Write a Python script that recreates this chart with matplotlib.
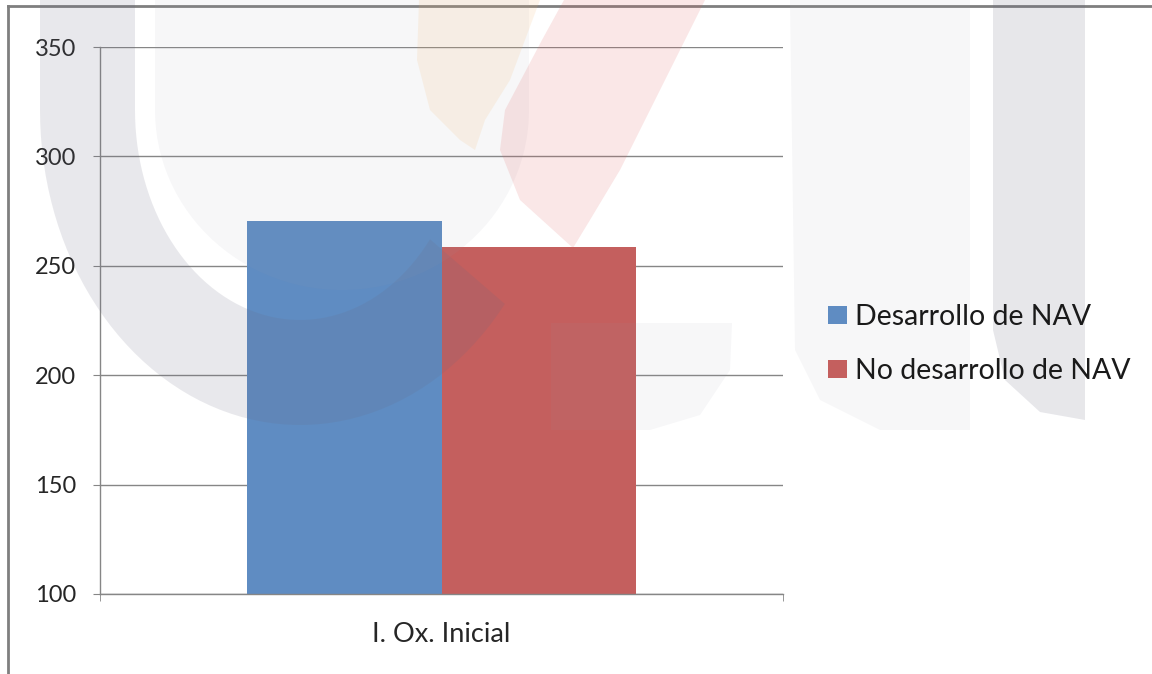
import numpy as np
import matplotlib
matplotlib.use("Agg")
import matplotlib.pyplot as plt
from matplotlib.patches import Polygon
from matplotlib.lines import Line2D

# data
categories = ["I. Ox. Inicial"]
series_names = ["Desarrollo de NAV", "No desarrollo de NAV"]
values_nav = [270.5]
values_no_nav = [258.7]
colors = ["#5F8CC2", "#C45F5E"]

plt.rcParams['font.family'] = ['Lato', 'DejaVu Sans']

W, H = 1152, 674
fig = plt.figure(figsize=(W / 100, H / 100), dpi=100)
fig.patch.set_facecolor("white")

ax = fig.add_axes([100 / W, 1 - 594 / H, 683 / W, 547 / H])
ax.set_facecolor("none")

x = np.arange(len(categories))
bw = 0.285
ax.bar(x - bw / 2, values_nav, bw, color=colors[0], label=series_names[0], zorder=2)
ax.bar(x + bw / 2, values_no_nav, bw, color=colors[1], label=series_names[1], zorder=2)

ax.set_ylim(100, 350)
ax.set_xlim(-0.5, 0.5)
ax.set_yticks(np.arange(100, 351, 50))
ax.yaxis.grid(True, color="#868686", linewidth=1)
ax.set_axisbelow(True)

for s in ["top", "right"]:
    ax.spines[s].set_visible(False)
for s in ["left", "bottom"]:
    ax.spines[s].set_color("#868686")
    ax.spines[s].set_linewidth(1)

ax.tick_params(axis="y", length=5, color="#868686", labelsize=17, pad=12, labelcolor="#262626")
ax.set_xticks(x)
ax.set_xticklabels(categories)
ax.tick_params(axis="x", which="major", length=0, labelsize=19.5, pad=20, labelcolor="#262626")
ax.set_xticks([-0.5, 0.5], minor=True)
ax.tick_params(axis="x", which="minor", length=5, color="#868686")

leg = fig.legend(loc="center left", bbox_to_anchor=(828 / W, 1 - 344 / H), frameon=False,
                 fontsize=20.5, handlelength=0.66, handleheight=0.62, handletextpad=0.28,
                 labelspacing=0.98, borderaxespad=0, borderpad=0)
for t in leg.get_texts():
    t.set_color("#1a1a1a")


# faint watermark, pixel coords measured from the top-left
def px(pts):
    return [(a, H - b) for a, b in pts]


def arc(cx, cy, a, b, t0, t1):
    # y grows downward here, so angles 0..180 run along the lower half
    t = np.radians(np.linspace(t0, t1, 60))
    return [(cx + a * np.cos(v), cy + b * np.sin(v)) for v in t]


wm = []
# dark outer C
wm.append(Polygon(px([(40, 0)] + arc(300, 110, 260, 315, 180, 38)
                     + arc(300, 110, 165, 210, 38, 180) + [(135, 0)]),
                  facecolor="#6a6a80", alpha=0.15, lw=0))
# light inner C
wm.append(Polygon(px([(155, 0)] + arc(342, 110, 187, 180, 180, 0) + [(529, 0)]),
                  facecolor="#9a9aaa", alpha=0.08, lw=0))
wm.append(Polygon(px([(551, 323), (732, 323), (730, 370), (700, 415), (650, 430), (551, 430)]),
                  facecolor="#9a9aaa", alpha=0.08, lw=0))
# flames
wm.append(Polygon(px([(564, 0), (705, 0), (680, 50), (650, 110), (620, 170), (590, 220),
                      (573, 248), (520, 200), (500, 150), (505, 110), (542, 40)]),
                  facecolor="#E06060", alpha=0.15, lw=0))
wm.append(Polygon(px([(419, 0), (540, 0), (525, 40), (510, 80), (485, 120), (475, 150),
                      (460, 140), (430, 110), (417, 60)]),
                  facecolor="#F5B060", alpha=0.13, lw=0))
# right U
wm.append(Polygon(px([(790, 0), (970, 0), (970, 430), (880, 430), (820, 400), (795, 350)]),
                  facecolor="#9a9aaa", alpha=0.08, lw=0))
wm.append(Polygon(px([(993, 0), (1085, 0), (1085, 420), (1040, 412), (1005, 380), (993, 330)]),
                  facecolor="#6a6a80", alpha=0.16, lw=0))
for p in wm:
    p.set_transform(None)
    p.set_zorder(5)
    fig.patches.append(p)

# outer frame
fig.add_artist(Line2D([8 / W, 8 / W], [0, 1 - 6 / H], color="#7f7f7f", lw=2, transform=fig.transFigure))
fig.add_artist(Line2D([8 / W, 1], [1 - 6 / H, 1 - 6 / H], color="#7f7f7f", lw=2, transform=fig.transFigure))

fig.savefig("out.png", dpi=100)
